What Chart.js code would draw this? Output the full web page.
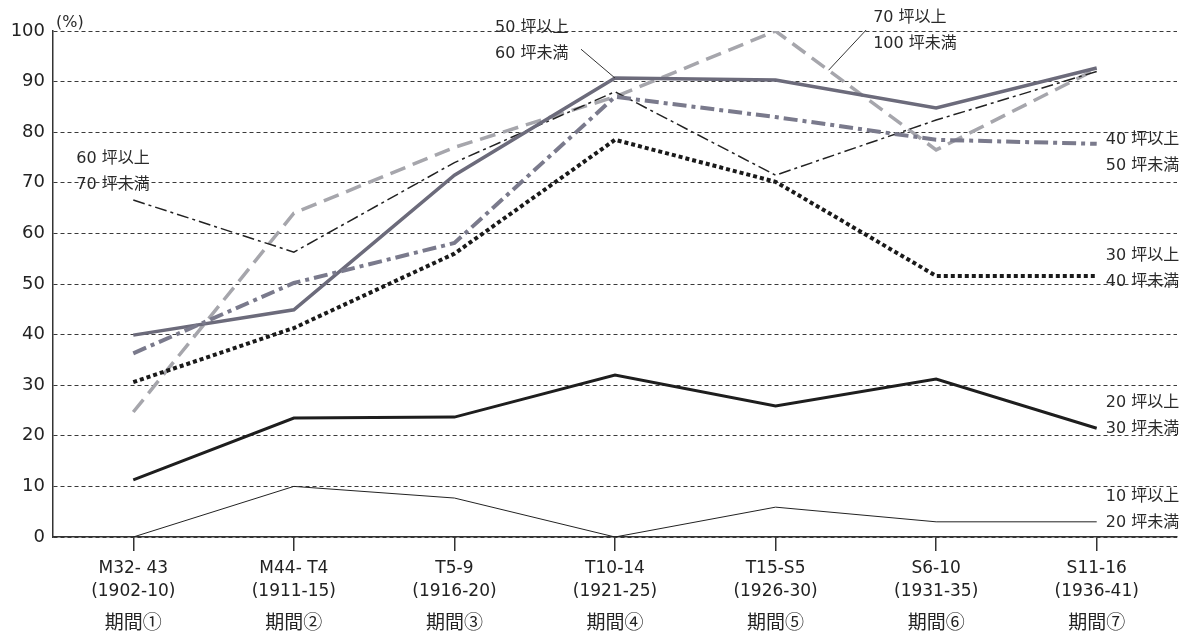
<!DOCTYPE html>
<html lang="ja">
<head>
    <meta charset="UTF-8">
    <title>坪数別 割合</title>
    <style>
        html, body { margin: 0; padding: 0; background: #fff; }
        #wrap { width: 1184px; height: 633px; }
    </style>
</head>
<body>
    <div id="wrap">
        <canvas id="myChart" width="1184" height="633"></canvas>
    </div>
<script src="https://cdn.jsdelivr.net/npm/chart.js"></script>
<script>
    // categories
    const periods = ['M32- 43', 'M44- T4', 'T5-9', 'T10-14', 'T15-S5', 'S6-10', 'S11-16'];
    const years = ['(1902-10)', '(1911-15)', '(1916-20)', '(1921-25)', '(1926-30)', '(1931-35)', '(1936-41)'];
    const periodNo = ['期間①', '期間②', '期間③', '期間④', '期間⑤', '期間⑥', '期間⑦'];
    const yTicks = [0, 10, 20, 30, 40, 50, 60, 70, 80, 90, 100];

    // series values (%)
    const s10_20 = [0, 10, 7.7, 0, 5.9, 3, 3];
    const s20_30 = [11.3, 23.5, 23.7, 32, 25.9, 31.2, 21.5];
    const s30_40 = [30.6, 41.3, 56, 78.5, 70.2, 51.6, 51.6];
    const s40_50 = [36.3, 50.2, 58.1, 87, 83, 78.5, 77.7];
    const s50_60 = [39.9, 44.9, 71.5, 90.7, 90.3, 84.8, 92.7];
    const s60_70 = [66.6, 56.3, 74, 88, 71.5, 82.4, 92];
    const s70_100 = [24.7, 64, 77, 87, 100, 76.5, 92.5];

    const FONT = "'DejaVu Sans', 'Noto Sans CJK JP', sans-serif";
    const JFONT = "'Noto Sans CJK JP', sans-serif";

    // label notes: category index + value to hang the text on
    const notes = [
        { lines: ['60 坪以上', '70 坪未満'], at: 0, val: 74.8, dx: -57 },
        { lines: ['50 坪以上', '60 坪未満'], at: 3, val: 100.6, dx: -120 },
        { lines: ['70 坪以上', '100 坪未満'], at: 5, val: 102.6, dx: -63 },
        { lines: ['40 坪以上', '50 坪未満'], at: 6, val: 78.5, dx: 9 },
        { lines: ['30 坪以上', '40 坪未満'], at: 6, val: 55.5, dx: 9 },
        { lines: ['20 坪以上', '30 坪未満'], at: 6, val: 26.6, dx: 9 },
        { lines: ['10 坪以上', '20 坪未満'], at: 6, val: 7.9, dx: 9 },
    ];

    const notesPlugin = {
        id: 'notes',
        afterDatasetsDraw(chart) {
            const ctx = chart.ctx;
            const xs = chart.scales.x, ys = chart.scales.y;
            ctx.save();
            ctx.fillStyle = '#2a2a2a';
            ctx.font = '16px ' + FONT;
            ctx.textAlign = 'left';
            ctx.textBaseline = 'middle';
            notes.forEach(n => {
                const x = xs.getPixelForValue(n.at) + n.dx;
                const y = ys.getPixelForValue(n.val);
                n.lines.forEach((t, i) => ctx.fillText(t, x, y + i * 26));
            });
            // (%)
            ctx.font = '16px ' + FONT;
            ctx.fillText('(%)', chart.chartArea.left + 3, ys.getPixelForValue(101.6));

            // leader lines
            ctx.strokeStyle = '#333';
            ctx.lineWidth = 1;
            const m5060 = chart.getDatasetMeta(4).data;
            ctx.beginPath();
            ctx.moveTo(xs.getPixelForValue(3) - 34, ys.getPixelForValue(96.4));
            ctx.lineTo(m5060[3].x, m5060[3].y);
            ctx.stroke();
            const m70 = chart.getDatasetMeta(6).data;
            const t = 0.33;
            const px = m70[4].x + (m70[5].x - m70[4].x) * t;
            const py = m70[4].y + (m70[5].y - m70[4].y) * t;
            ctx.beginPath();
            ctx.moveTo(xs.getPixelForValue(5) - 70, ys.getPixelForValue(100.2));
            ctx.lineTo(px, py);
            ctx.stroke();
            ctx.restore();
        }
    };

    function line(label, data, color, width, dash) {
        return {
            label: label,
            data: data,
            borderColor: color,
            backgroundColor: color,
            borderWidth: width,
            borderDash: dash,
            borderCapStyle: 'butt',
            borderJoinStyle: 'miter',
            pointRadius: 0,
            tension: 0,
            fill: false,
            xAxisID: 'x',
            yAxisID: 'y',
        };
    }

    const data = {
        labels: periods.map((p, i) => [p, years[i]]),
        datasets: [
            line('10坪以上20坪未満', s10_20, '#222', 1, []),
            line('20坪以上30坪未満', s20_30, '#1e1e1e', 3, []),
            line('30坪以上40坪未満', s30_40, '#1a1a1a', 4, [4, 3]),
            line('40坪以上50坪未満', s40_50, '#7a7a8c', 4, [14, 5, 4, 5]),
            line('50坪以上60坪未満', s50_60, '#6c6b7b', 3.5, []),
            line('60坪以上70坪未満', s60_70, '#222', 1.5, [12, 4, 3, 4]),
            line('70坪以上100坪未満', s70_100, '#a6a6ac', 3.5, [16, 8]),
        ]
    };

    const config = {
        type: 'line',
        data,
        plugins: [notesPlugin],
        options: {
            responsive: false,
            animation: false,
            layout: { padding: { top: 31, right: 7, left: 0, bottom: 0 } },
            plugins: {
                legend: { display: false },
                tooltip: { enabled: false },
            },
            scales: {
                x: {
                    type: 'category',
                    offset: true,
                    position: 'bottom',
                    afterFit: s => { s.height = 65; },
                    border: { display: true, color: '#333', width: 1.5 },
                    grid: {
                        display: true,
                        offset: false,
                        drawOnChartArea: false,
                        drawTicks: true,
                        tickLength: 14,
                        color: '#333',
                        lineWidth: 1.5,
                    },
                    ticks: {
                        color: '#222',
                        padding: 6,
                        maxRotation: 0,
                        autoSkip: false,
                        font: { family: FONT, size: 17, lineHeight: 1.35 },
                    },
                },
                x2: {
                    type: 'category',
                    labels: periodNo,
                    offset: true,
                    position: 'bottom',
                    afterFit: s => { s.height = 31; },
                    border: { display: false },
                    grid: { display: false, drawTicks: false },
                    ticks: {
                        color: '#222',
                        padding: 8,
                        maxRotation: 0,
                        autoSkip: false,
                        font: { family: JFONT, size: 19, lineHeight: 1.2 },
                    },
                },
                y: {
                    min: 0,
                    max: 100,
                    afterFit: s => { s.width = 53; },
                    afterBuildTicks: s => { s.ticks = yTicks.map(v => ({ value: v })); },
                    // in v4 border.dash dashes the grid lines, the axis line stays solid
                    border: { display: true, color: '#333', width: 1.5, dash: [4, 3] },
                    grid: {
                        drawTicks: false,
                        color: '#3a3a3a',
                        lineWidth: 1,
                    },
                    ticks: {
                        color: '#222',
                        padding: 8,
                        font: { family: FONT, size: 18 },
                    },
                },
            }
        }
    };

    var myChart = new Chart(document.getElementById('myChart'), config);
</script>
</body>
</html>
